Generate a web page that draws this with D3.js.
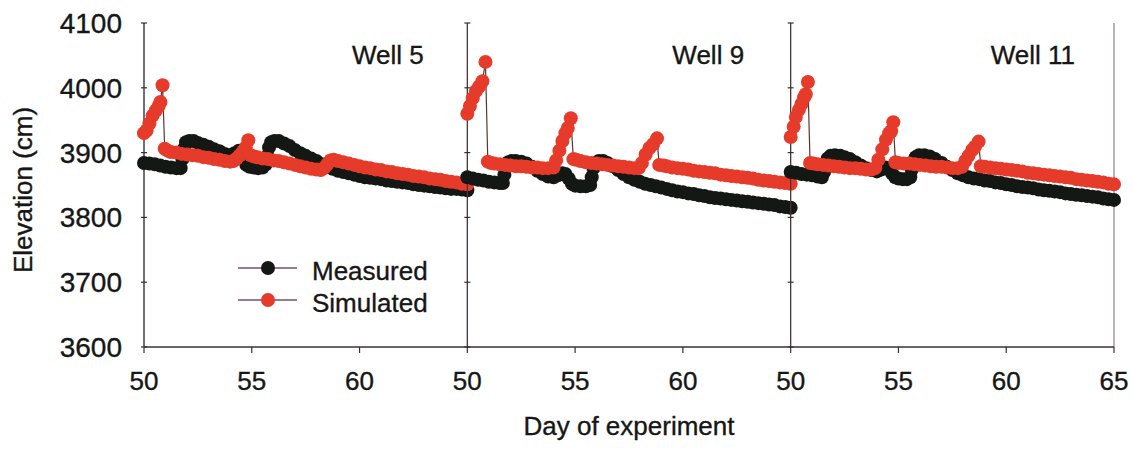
<!DOCTYPE html>
<html>
<head>
<meta charset="utf-8">
<script src="https://cdn.jsdelivr.net/npm/d3@7"></script>
<style>
  body { margin: 0; background: #fff; }
  svg { display: block; }
  text { font-family: Arial, "Liberation Sans", sans-serif; fill: #161616; stroke: #161616; stroke-width: 0.35px; }
</style>
</head>
<body>
<svg id="chart" width="1133" height="449"></svg>
<script>
// Panel titles, axis ticks and series names
const wells = ["Well 5", "Well 9", "Well 11"];
const yTicks = [3600, 3700, 3800, 3900, 4000, 4100];
const xTicks = [50, 55, 60];
const seriesNames = ["Measured", "Simulated"];

// [day, elevation (cm)]
const well5Measured = [[50,3884],[50.25,3883],[50.5,3882],[50.75,3880],[51,3878],[51.25,3877],[51.5,3876],[51.7,3876],[51.78,3890],[51.86,3906],[51.95,3916],[52.1,3918],[52.3,3918],[52.5,3915],[52.75,3912],[53,3909],[53.25,3905],[53.5,3902],[53.75,3898],[54,3896],[54.2,3899],[54.4,3903],[54.55,3901],[54.65,3890],[54.75,3881],[54.9,3878],[55.1,3877],[55.3,3876],[55.5,3877],[55.65,3882],[55.72,3895],[55.8,3908],[55.9,3916],[56.05,3918],[56.25,3918],[56.5,3914],[56.75,3910],[57,3904],[57.25,3899],[57.5,3895],[57.75,3891],[58,3887],[58.25,3882],[58.5,3878],[58.75,3875],[59,3872],[59.25,3870],[59.5,3868],[59.75,3866],[60,3864],[60.25,3862],[60.5,3861],[60.75,3860],[61,3859],[61.25,3857],[61.5,3856],[61.75,3855],[62,3854],[62.25,3853],[62.5,3851],[62.75,3850],[63,3849],[63.25,3848],[63.5,3847],[63.75,3846],[64,3845],[64.25,3844],[64.5,3844],[64.75,3843],[65,3842]];
const well5Simulated = [[50,3930],[50.12,3934],[50.25,3945],[50.4,3957],[50.55,3965],[50.68,3972],[50.76,3978],[50.86,4004],[50.96,3906],[51.1,3903],[51.25,3901],[51.5,3900],[51.75,3898],[52,3897],[52.25,3896],[52.5,3895],[52.75,3893],[53,3892],[53.25,3890],[53.5,3889],[53.75,3887],[54,3886],[54.15,3887],[54.3,3891],[54.45,3896],[54.6,3902],[54.72,3908],[54.84,3919],[54.95,3896],[55.1,3894],[55.25,3893],[55.5,3891],[55.75,3890],[56,3888],[56.25,3887],[56.5,3885],[56.75,3883],[57,3881],[57.25,3879],[57.5,3877],[57.75,3875],[58,3874],[58.2,3873],[58.35,3876],[58.5,3882],[58.65,3888],[58.8,3889],[59,3887],[59.25,3885],[59.5,3883],[59.75,3881],[60,3879],[60.25,3877],[60.5,3876],[60.75,3874],[61,3873],[61.25,3871],[61.5,3870],[61.75,3868],[62,3867],[62.25,3866],[62.5,3864],[62.75,3863],[63,3862],[63.25,3860],[63.5,3859],[63.75,3858],[64,3856],[64.25,3855],[64.5,3854],[64.75,3852],[65,3851]];

const well9Measured = [[50,3862],[50.25,3860],[50.5,3858],[50.75,3857],[51,3855],[51.25,3854],[51.5,3853],[51.65,3853],[51.72,3866],[51.8,3878],[51.9,3885],[52.05,3887],[52.25,3887],[52.5,3886],[52.75,3883],[53,3878],[53.25,3872],[53.5,3867],[53.75,3863],[54,3862],[54.2,3865],[54.4,3868],[54.55,3867],[54.7,3860],[54.85,3852],[55,3849],[55.25,3848],[55.5,3848],[55.7,3850],[55.77,3862],[55.85,3876],[55.95,3884],[56.1,3887],[56.3,3887],[56.5,3884],[56.75,3879],[57,3873],[57.25,3867],[57.5,3862],[57.75,3858],[58,3855],[58.25,3852],[58.5,3850],[58.75,3848],[59,3846],[59.25,3844],[59.5,3842],[59.75,3840],[60,3839],[60.25,3837],[60.5,3836],[60.75,3834],[61,3833],[61.25,3831],[61.5,3830],[61.75,3829],[62,3828],[62.25,3827],[62.5,3826],[62.75,3825],[63,3824],[63.25,3823],[63.5,3822],[63.75,3821],[64,3820],[64.25,3819],[64.5,3817],[64.75,3816],[65,3815]];
const well9Simulated = [[50,3960],[50.12,3972],[50.25,3984],[50.4,3995],[50.55,4002],[50.7,4010],[50.84,4040],[50.95,3886],[51.1,3884],[51.25,3883],[51.5,3882],[51.75,3881],[52,3880],[52.25,3879],[52.5,3879],[52.75,3878],[53,3877],[53.25,3877],[53.5,3876],[53.75,3876],[54,3877],[54.12,3888],[54.27,3903],[54.41,3918],[54.55,3930],[54.66,3938],[54.8,3953],[54.92,3890],[55.05,3889],[55.25,3887],[55.5,3885],[55.75,3884],[56,3883],[56.25,3882],[56.5,3881],[56.75,3880],[57,3879],[57.25,3878],[57.5,3877],[57.75,3876],[57.95,3876],[58.1,3884],[58.27,3897],[58.45,3907],[58.62,3913],[58.8,3922],[58.9,3881],[59.1,3880],[59.25,3879],[59.5,3877],[59.75,3876],[60,3875],[60.25,3874],[60.5,3872],[60.75,3871],[61,3870],[61.25,3869],[61.5,3868],[61.75,3866],[62,3865],[62.25,3864],[62.5,3863],[62.75,3862],[63,3861],[63.25,3860],[63.5,3858],[63.75,3857],[64,3856],[64.25,3855],[64.5,3854],[64.75,3853],[65,3852]];

const well11Measured = [[50,3870],[50.25,3869],[50.5,3867],[50.75,3866],[51,3865],[51.25,3863],[51.45,3862],[51.55,3870],[51.63,3882],[51.72,3891],[51.85,3895],[52.05,3896],[52.3,3895],[52.5,3893],[52.75,3890],[53,3885],[53.25,3880],[53.5,3876],[53.75,3873],[54,3871],[54.2,3874],[54.4,3877],[54.55,3875],[54.7,3868],[54.85,3862],[55,3860],[55.2,3859],[55.4,3859],[55.55,3862],[55.62,3874],[55.7,3886],[55.8,3893],[55.95,3896],[56.2,3896],[56.45,3894],[56.7,3890],[57,3884],[57.25,3878],[57.5,3873],[57.75,3868],[58,3865],[58.25,3862],[58.5,3860],[58.75,3859],[59,3857],[59.25,3856],[59.5,3854],[59.75,3853],[60,3851],[60.25,3850],[60.5,3848],[60.75,3847],[61,3846],[61.25,3845],[61.5,3843],[61.75,3842],[62,3841],[62.25,3840],[62.5,3839],[62.75,3837],[63,3836],[63.25,3835],[63.5,3834],[63.75,3833],[64,3832],[64.25,3831],[64.5,3829],[64.75,3828],[65,3827]];
const well11Simulated = [[50,3924],[50.14,3940],[50.24,3955],[50.38,3966],[50.5,3975],[50.62,3985],[50.7,3990],[50.8,4009],[50.9,3884],[51.05,3883],[51.25,3882],[51.5,3881],[51.75,3880],[52,3879],[52.25,3878],[52.5,3877],[52.75,3876],[53,3876],[53.25,3875],[53.5,3874],[53.75,3874],[53.92,3876],[54.07,3889],[54.25,3905],[54.42,3920],[54.57,3930],[54.66,3933],[54.76,3947],[54.86,3885],[55,3884],[55.25,3883],[55.5,3883],[55.75,3882],[56,3881],[56.25,3880],[56.5,3879],[56.75,3878],[57,3878],[57.25,3877],[57.5,3876],[57.75,3876],[57.95,3878],[58.1,3887],[58.25,3895],[58.42,3904],[58.55,3909],[58.72,3917],[58.82,3879],[59,3878],[59.25,3877],[59.5,3876],[59.75,3875],[60,3874],[60.25,3873],[60.5,3872],[60.75,3871],[61,3869],[61.25,3868],[61.5,3867],[61.75,3866],[62,3865],[62.25,3864],[62.5,3863],[62.75,3862],[63,3861],[63.25,3859],[63.5,3858],[63.75,3857],[64,3856],[64.25,3855],[64.5,3854],[64.75,3852],[65,3851]];

const panels = [
  { title: wells[0], measured: well5Measured, simulated: well5Simulated },
  { title: wells[1], measured: well9Measured, simulated: well9Simulated },
  { title: wells[2], measured: well11Measured, simulated: well11Simulated }
];

const colors = { Measured: "#141814", Simulated: "#e63b2a" };
const lineColor = "#5a3434";
const markerR = 7;
// left edge of each panel title, measured from the panel's left border
const titleOffset = [208, 205, 200];

const svg = d3.select("#chart");
const plotLeft = 144, plotRight = 1114, plotTop = 23, plotBottom = 347;
const panelW = (plotRight - plotLeft) / panels.length;

const y = d3.scaleLinear().domain([3600, 4100]).range([plotBottom, plotTop]);

// Frame: right edge and x baseline
svg.append("line")
  .attr("x1", plotRight).attr("x2", plotRight)
  .attr("y1", plotTop).attr("y2", plotBottom)
  .attr("stroke", "#8a8080").attr("stroke-width", 1.2);
svg.append("line")
  .attr("x1", plotLeft).attr("x2", plotRight)
  .attr("y1", plotBottom).attr("y2", plotBottom)
  .attr("stroke", "#3c3038").attr("stroke-width", 1.4);

panels.forEach((p, i) => {
  const x0 = plotLeft + i * panelW;
  const x = d3.scaleLinear().domain([50, 65]).range([x0, x0 + panelW]);
  const g = svg.append("g");

  // panel's own y axis (divider) with small crossing ticks
  g.append("line")
    .attr("x1", x0).attr("x2", x0)
    .attr("y1", plotTop).attr("y2", plotBottom)
    .attr("stroke", i === 0 ? "#222" : "#4a3434").attr("stroke-width", 1.3);
  g.selectAll(".ytick").data(yTicks).join("line")
    .attr("x1", x0 - 3).attr("x2", x0 + 3)
    .attr("y1", d => y(d)).attr("y2", d => y(d))
    .attr("stroke", "#333").attr("stroke-width", 1.2);

  if (i === 0) {
    g.selectAll(".ylab").data(yTicks).join("text")
      .attr("x", x0 - 22).attr("y", d => y(d))
      .attr("dy", "0.36em")
      .attr("text-anchor", "end")
      .style("font-size", "28px")
      .text(d => d);
  }

  // x ticks and labels
  const ticks = i === panels.length - 1 ? xTicks.concat([65]) : xTicks;
  g.selectAll(".xtick").data(ticks).join("line")
    .attr("x1", d => x(d)).attr("x2", d => x(d))
    .attr("y1", plotBottom).attr("y2", plotBottom + 6)
    .attr("stroke", "#333").attr("stroke-width", 1.2);
  g.selectAll(".xlab").data(ticks).join("text")
    .attr("x", d => x(d)).attr("y", 390)
    .attr("text-anchor", "middle")
    .style("font-size", "26px")
    .text(d => d);

  // series: thin connecting line under dense round markers
  const line = d3.line().x(d => x(d[0])).y(d => y(d[1]));
  [["Measured", p.measured], ["Simulated", p.simulated]].forEach(([name, data]) => {
    g.append("path")
      .attr("d", line(data))
      .attr("fill", "none")
      .attr("stroke", lineColor)
      .attr("stroke-width", 1.2);
    g.selectAll(null).data(data).join("circle")
      .attr("cx", d => x(d[0]))
      .attr("cy", d => y(d[1]))
      .attr("r", markerR)
      .attr("fill", colors[name]);
  });

  // panel title
  g.append("text")
    .attr("x", x0 + titleOffset[i]).attr("y", 64)
    .style("font-size", "26px")
    .text(p.title);
});

// Axis titles
svg.append("text")
  .attr("transform", "translate(32,190) rotate(-90)")
  .attr("text-anchor", "middle")
  .style("font-size", "26px")
  .text("Elevation (cm)");
svg.append("text")
  .attr("x", 629).attr("y", 435)
  .attr("text-anchor", "middle")
  .style("font-size", "26px")
  .text("Day of experiment");

// Legend
const legend = svg.append("g");
seriesNames.forEach((name, k) => {
  const ly = 268 + k * 32;
  legend.append("line")
    .attr("x1", 238).attr("x2", 297)
    .attr("y1", ly).attr("y2", ly)
    .attr("stroke", "#7b4c66").attr("stroke-width", 1.6);
  legend.append("circle")
    .attr("cx", 268).attr("cy", ly).attr("r", markerR)
    .attr("fill", colors[name]);
  legend.append("text")
    .attr("x", 312).attr("y", ly + 12)
    .style("font-size", "26px")
    .text(name);
});
</script>
</body>
</html>
